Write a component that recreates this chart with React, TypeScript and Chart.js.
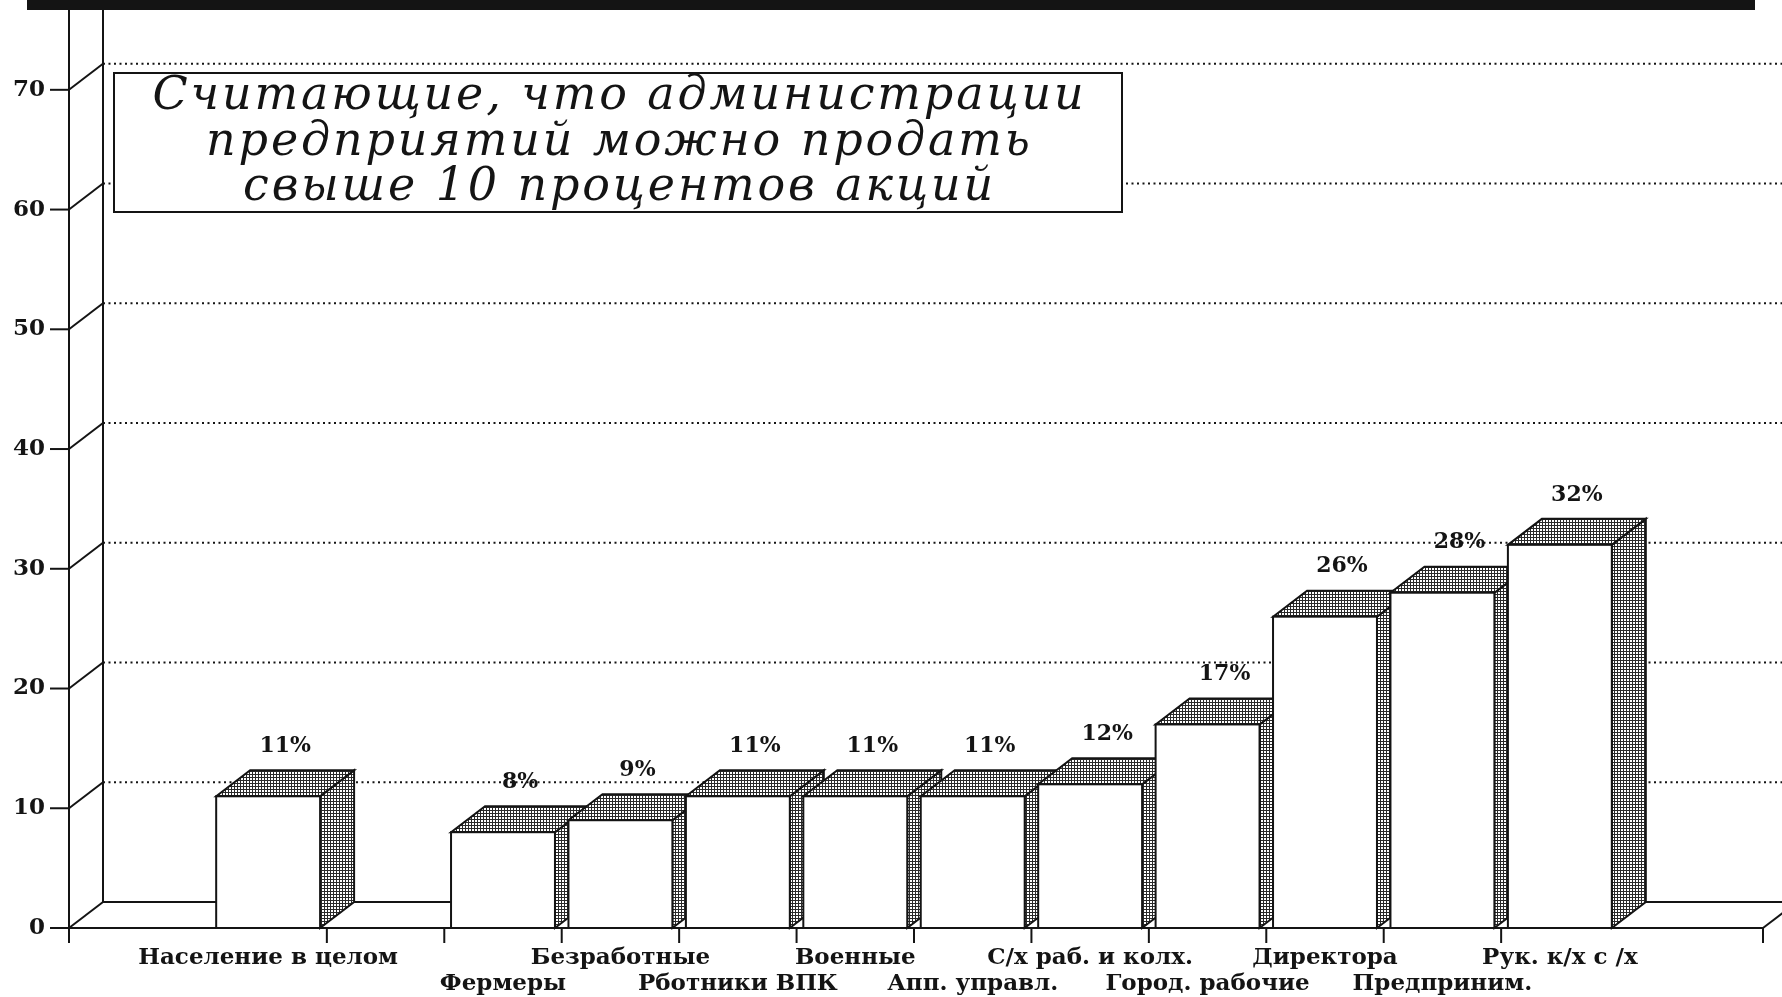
import { useEffect, useRef } from "react";
import { Chart, registerables } from "chart.js";

Chart.register(...registerables);

// ---- data ----
const categories = [
  "",
  "Население в целом",
  "",
  "Фермеры",
  "Безработные",
  "Рботники ВПК",
  "Военные",
  "Апп. управл.",
  "С/х раб. и колх.",
  "Город. рабочие",
  "Директора",
  "Предприним.",
  "Рук. к/х с /х",
  "",
];
const shares: (number | null)[] = [null, 11, null, 8, 9, 11, 11, 11, 12, 17, 26, 28, 32, null];
const labelRow = [0, 1, 0, 2, 1, 2, 1, 2, 1, 2, 1, 2, 1, 0];
const yTicks = [0, 10, 20, 30, 40, 50, 60, 70];
const titleLines = [
  "Считающие, что администрации",
  "предприятий можно продать",
  "свыше 10 процентов акций",
];

// ---- style ----
const W = 1782;
const H = 997;
const DX = 34;
const DY = -26;
const FRONT_X = 69;
const INK = "#141414";
const SERIF = '"DejaVu Serif", "Liberation Serif", serif';

function makePattern(ctx: CanvasRenderingContext2D) {
  const c = document.createElement("canvas");
  c.width = 3;
  c.height = 3;
  const p = c.getContext("2d")!;
  p.fillStyle = "#2a2a2a";
  p.fillRect(0, 0, 3, 3);
  p.fillStyle = "#ffffff";
  p.fillRect(1, 1, 2, 2);
  return ctx.createPattern(c, "repeat")!;
}

function seg(ctx: CanvasRenderingContext2D, x1: number, y1: number, x2: number, y2: number) {
  ctx.beginPath();
  ctx.moveTo(x1, y1);
  ctx.lineTo(x2, y2);
  ctx.stroke();
}

const threeD = {
  id: "threeD",
  beforeDatasetsDraw(chart: any) {
    const { ctx, chartArea } = chart;
    const xs = chart.scales.x;
    const ys = chart.scales.y;
    const y0 = ys.getPixelForValue(0);
    const backX = FRONT_X + DX;
    const floorRight = chartArea.right + 27;
    ctx.save();
    // top black band
    ctx.fillStyle = INK;
    ctx.fillRect(27, 0, 1755 - 27, 10);

    ctx.strokeStyle = INK;
    ctx.lineWidth = 2;
    // walls
    seg(ctx, backX, 8, backX, y0 + DY);
    seg(ctx, FRONT_X, 8, FRONT_X, y0 + 15);

    yTicks.forEach((v) => {
      const y = ys.getPixelForValue(v);
      ctx.setLineDash([]);
      ctx.lineWidth = 2;
      seg(ctx, 50, y, FRONT_X, y);
      seg(ctx, FRONT_X, y, backX, y + DY);
      if (v > 0) {
        ctx.lineWidth = 2;
        ctx.setLineDash([2, 3.5]);
        seg(ctx, backX, y + DY, W, y + DY);
      }
    });
    ctx.setLineDash([]);
    ctx.lineWidth = 2;
    // floor
    seg(ctx, FRONT_X, y0, floorRight, y0);
    seg(ctx, backX, y0 + DY, W, y0 + DY);
    seg(ctx, floorRight, y0, floorRight + DX, y0 + DY);
    seg(ctx, floorRight, y0, floorRight, y0 + 15);
    // category ticks
    for (let i = 1; i < categories.length - 2; i++) {
      const bx = (xs.getPixelForValue(i) + xs.getPixelForValue(i + 1)) / 2;
      seg(ctx, bx, y0, bx, y0 + 15);
    }
    ctx.restore();
  },
  afterDatasetsDraw(chart: any) {
    const { ctx } = chart;
    const pattern = makePattern(ctx);
    const meta = chart.getDatasetMeta(0);
    ctx.save();
    ctx.strokeStyle = INK;
    ctx.lineWidth = 2;
    ctx.lineJoin = "miter";
    meta.data.forEach((el: any, i: number) => {
      const v = shares[i];
      if (v == null) return;
      const { x, y, base, width } = el.getProps(["x", "y", "base", "width"], true);
      const l = x - width / 2;
      const r = x + width / 2;
      // side face
      ctx.beginPath();
      ctx.moveTo(r, base);
      ctx.lineTo(r + DX, base + DY);
      ctx.lineTo(r + DX, y + DY);
      ctx.lineTo(r, y);
      ctx.closePath();
      ctx.fillStyle = pattern;
      ctx.fill();
      ctx.stroke();
      // top face
      ctx.beginPath();
      ctx.moveTo(l, y);
      ctx.lineTo(l + DX, y + DY);
      ctx.lineTo(r + DX, y + DY);
      ctx.lineTo(r, y);
      ctx.closePath();
      ctx.fillStyle = pattern;
      ctx.fill();
      ctx.stroke();
      // front face
      ctx.fillStyle = "#ffffff";
      ctx.fillRect(l, y, width, base - y);
      ctx.strokeRect(l, y, width, base - y);
    });
    // value labels
    ctx.fillStyle = INK;
    ctx.font = `bold 22px ${SERIF}`;
    ctx.textAlign = "center";
    ctx.textBaseline = "middle";
    meta.data.forEach((el: any, i: number) => {
      const v = shares[i];
      if (v == null) return;
      const { x, y } = el.getProps(["x", "y"], true);
      ctx.fillText(`${v}%`, x + DX / 2, y + DY - 24);
    });

    // title box
    const bx = 114;
    const by = 73;
    const bw = 1122 - 114;
    const bh = 212 - 73;
    ctx.fillStyle = "#ffffff";
    ctx.fillRect(bx, by, bw, bh);
    ctx.lineWidth = 2;
    ctx.strokeRect(bx, by, bw, bh);
    ctx.fillStyle = INK;
    ctx.font = `italic 46px ${SERIF}`;
    const c: any = ctx;
    c.letterSpacing = "0px";
    const w0 = ctx.measureText(titleLines[0]).width;
    const n = titleLines[0].length;
    const sp = Math.max(0, (934 - w0) / n);
    c.letterSpacing = `${sp}px`;
    const cx = bx + bw / 2 + sp / 2;
    const lineY = [97, 143, 188];
    titleLines.forEach((t, k) => ctx.fillText(t, cx, lineY[k]));
    c.letterSpacing = "0px";
    ctx.restore();
  },
};

export default function App() {
  const ref = useRef<HTMLCanvasElement>(null);
  useEffect(() => {
    const canvas = ref.current!;
    const chart = new Chart(canvas, {
      type: "bar",
      data: {
        labels: categories,
        datasets: [
          {
            data: shares,
            backgroundColor: "#ffffff",
            borderColor: INK,
            borderWidth: 2,
            barPercentage: 0.885,
            categoryPercentage: 1,
          },
        ],
      },
      options: {
        responsive: false,
        animation: false,
        layout: { padding: { left: 0, right: 46, top: 6, bottom: 0 } },
        plugins: {
          legend: { display: false },
          tooltip: { enabled: false },
          title: { display: false },
        },
        scales: {
          x: {
            type: "category",
            grid: { display: false, drawTicks: false },
            border: { display: false },
            ticks: {
              autoSkip: false,
              maxRotation: 0,
              minRotation: 0,
              padding: 17,
              color: INK,
              font: { family: SERIF, size: 23, weight: "bold", lineHeight: 1.13 },
              callback: (_v: any, i: number) => {
                const row = labelRow[i];
                if (row === 1) return [categories[i], ""];
                if (row === 2) return ["", categories[i]];
                return "";
              },
            },
            afterFit: (s: any) => {
              s.height = 69;
              s.paddingLeft = 0;
              s.paddingRight = 0;
            },
          },
          y: {
            type: "linear",
            min: 0,
            max: 77,
            bounds: "data",
            grid: { display: false, drawTicks: false },
            border: { display: false },
            afterDataLimits: (s: any) => {
              s.min = 0;
              s.max = 77;
            },
            afterBuildTicks: (s: any) => {
              s.ticks = yTicks.map((v) => ({ value: v }));
            },
            ticks: {
              padding: 47,
              color: INK,
              font: { family: SERIF, size: 23, weight: "bold" },
            },
            afterFit: (s: any) => {
              s.width = 92;
              s.paddingTop = 0;
              s.paddingBottom = 0;
            },
          },
        },
      } as any,
      plugins: [threeD],
    });
    return () => chart.destroy();
  }, []);
  return (
    <div style={{ position: "absolute", left: 0, top: 0, width: W, height: H, background: "#fff" }}>
      <canvas ref={ref} width={W} height={H} style={{ display: "block", width: W, height: H }} />
    </div>
  );
}
